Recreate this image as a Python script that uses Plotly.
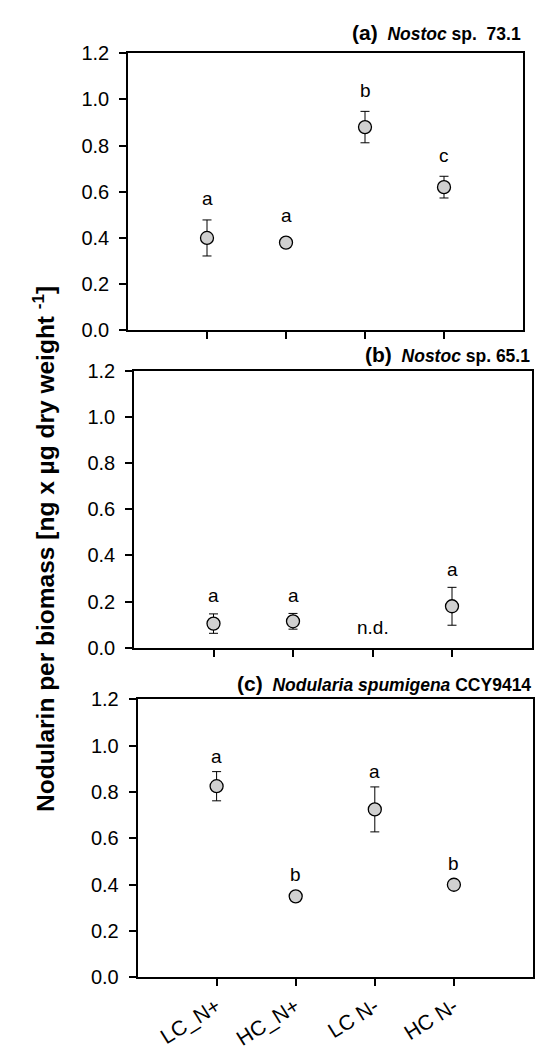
import plotly.graph_objects as go

# ---------------- data ----------------
categories = ["LC_N+", "HC_N+", "LC N-", "HC N-"]
xpos = [1, 2, 3, 4]

a_mean = [0.40, 0.38, 0.88, 0.62]
a_err = [0.078, 0.0, 0.068, 0.047]
a_letters = ["a", "a", "b", "c"]

b_mean = [0.105, 0.115, None, 0.18]
b_err = [0.042, 0.034, 0.0, 0.082]
b_letters = ["a", "a", "n.d.", "a"]

c_mean = [0.825, 0.35, 0.725, 0.40]
c_err = [0.063, 0.0, 0.097, 0.0]
c_letters = ["a", "b", "a", "b"]

y_ticks = [0.0, 0.2, 0.4, 0.6, 0.8, 1.0, 1.2]

# ---------------- layout helpers ----------------
OFF = 8  # default page body margin
W, H = 544 - OFF, 1051 - OFF
FONT = "Liberation Sans, Arial, sans-serif"


def px(xp):
    return (xp - OFF) / W


def py(yp):
    return 1 - (yp - OFF) / H


# pixel boxes in the page (left, right, top, bottom)
boxes = [
    (128, 523, 43, 327),
    (134, 531.5, 368.3, 652.3),
    (137.5, 533, 705, 990),
]
titles = [
    "<span style='font-size:21px'>(a)</span>  <i>Nostoc</i> sp.  73.1",
    "<span style='font-size:21px'>(b)</span>  <i>Nostoc</i> sp. 65.1",
    "<span style='font-size:21px'>(c)</span>  <i>Nodularia spumigena</i> CCY9414",
]
title_y = [22, 351.5, 688.5]
letter_shift = [21, 18, 15]
marker_r = 6.5

series = [(a_mean, a_err, a_letters), (b_mean, b_err, b_letters), (c_mean, c_err, c_letters)]

fig = go.Figure()
annotations = []
layout_axes = {}

for i, ((l, r, t, b), (mean, err, letters)) in enumerate(zip(boxes, series)):
    sfx = "" if i == 0 else str(i + 1)
    xa, ya = "x" + sfx, "y" + sfx
    fig.add_trace(go.Scatter(
        x=xpos, y=mean, mode="markers", xaxis=xa, yaxis=ya,
        marker=dict(size=13, color="#d0d0d0", line=dict(color="black", width=1.3)),
        error_y=dict(type="data", array=err, visible=True, color="black", thickness=1, width=4.5),
        showlegend=False, hoverinfo="skip",
    ))
    for xv, m, e, lab in zip(xpos, mean, err, letters):
        if m is None:
            annotations.append(dict(
                x=xv, y=0, xref=xa, yref=ya, text=lab, showarrow=False,
                yshift=20.5, font=dict(size=19, color="black", family=FONT),
            ))
            continue
        top = m + e
        shift = letter_shift[i] + (marker_r if e == 0 else 0)
        annotations.append(dict(
            x=xv, y=top, xref=xa, yref=ya, text=lab, showarrow=False,
            yshift=shift, font=dict(size=19, color="black", family=FONT),
        ))
    annotations.append(dict(
        x=px(r), y=py(title_y[i]), xref="paper", yref="paper",
        xanchor="right", yanchor="middle", showarrow=False,
        text="<b>" + titles[i] + "</b>",
        font=dict(size=17.5, color="black", family=FONT),
    ))
    layout_axes["xaxis" + sfx] = dict(
        domain=[px(l), px(r)], anchor=ya, range=[0, 5],
        tickmode="array", tickvals=xpos, ticktext=categories,
        showticklabels=(i == 2), tickangle=-32,
        ticks="outside", ticklen=7, tickwidth=2.2, tickcolor="black",
        showline=True, linecolor="black", linewidth=1.5, mirror=True,
        showgrid=False, zeroline=False,
        tickfont=dict(size=21, color="black", family=FONT),
    )
    layout_axes["yaxis" + sfx] = dict(
        domain=[py(b), py(t)], anchor=xa, range=[0, 1.2],
        tickmode="array", tickvals=y_ticks, tickformat=".1f",
        ticks="outside", ticklen=7, tickwidth=2.2, tickcolor="black",
        showline=True, linecolor="black", linewidth=1.5, mirror=True,
        showgrid=False, zeroline=False, ticklabelstandoff=6,
        tickfont=dict(size=20, color="black", family=FONT),
    )

annotations.append(dict(
    x=px(44), y=py(551), xref="paper", yref="paper",
    xanchor="center", yanchor="middle", showarrow=False, textangle=-90,
    text="<b>Nodularin per biomass [ng x µg dry weight <sup>-1</sup>]</b>",
    font=dict(size=24.5, color="black", family=FONT),
))

fig.update_layout(
    width=W, height=H,
    margin=dict(l=0, r=0, t=0, b=0),
    paper_bgcolor="white", plot_bgcolor="white",
    annotations=annotations,
    **layout_axes,
)

fig.write_html("out.html")
